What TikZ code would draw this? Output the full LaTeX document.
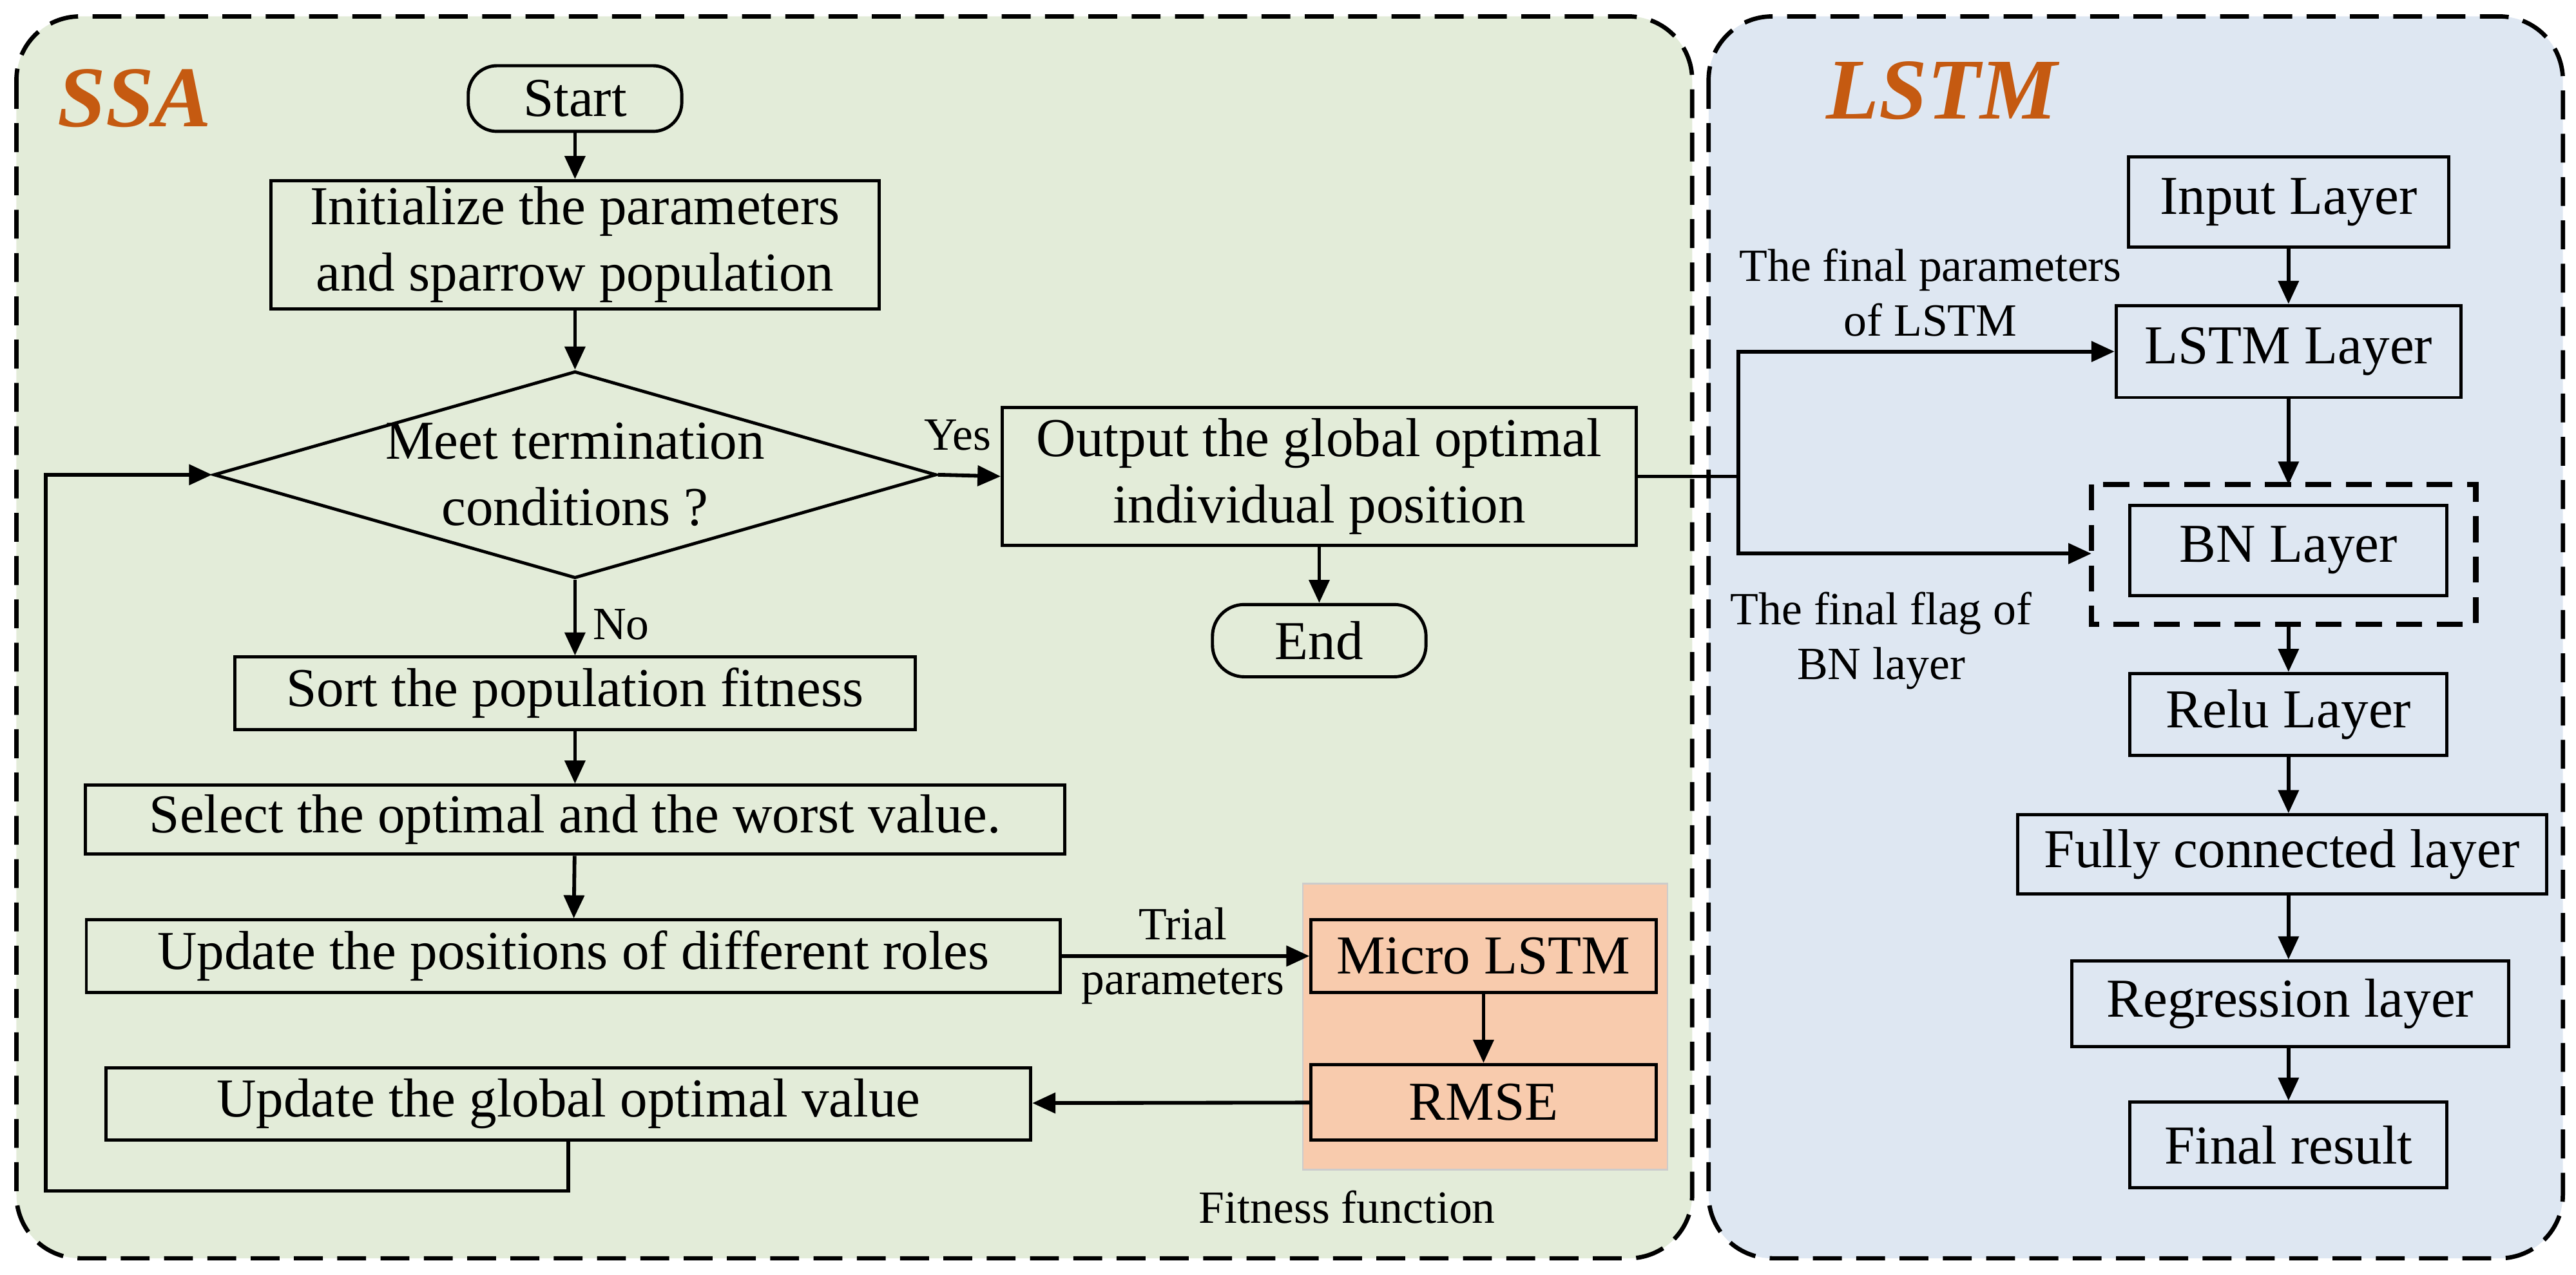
\documentclass[tikz,border=0pt]{standalone}
\usepackage{fontspec}
\setmainfont{Liberation Serif}
\usetikzlibrary{arrows.meta,shapes.geometric}
\begin{document}
\begin{tikzpicture}[x=0.02cm,y=-0.02cm,
  every node/.style={font=\fontsize{19}{23}\selectfont},
  small/.style={font=\fontsize{16}{19}\selectfont,align=center},
  box/.style={draw,line width=1.1pt,fill=none,align=center,inner sep=0pt},
  arr/.style={line width=1.3pt,-{Triangle[length=8pt,width=7pt]}},
  ln/.style={line width=1.3pt},
  panel/.style={line width=1.5pt,dash pattern=on 10pt off 5pt,rounded corners=22pt}]
\useasboundingbox (0,0) rectangle (1568,776);
\definecolor{gbg}{HTML}{E3ECD9}
\definecolor{bbg}{HTML}{DEE7F2}
\definecolor{org}{HTML}{F8CBAD}
\definecolor{lab}{HTML}{C55A11}
\draw[panel,fill=gbg] (10,10) rectangle (1030,766);
\draw[panel,fill=bbg] (1040,10) rectangle (1560,766);
\node[font=\fontsize{30}{34}\selectfont\bfseries\itshape,text=lab] (ssa) at (82,60) {SSA};
\node[font=\fontsize{30}{34}\selectfont\bfseries\itshape,text=lab] (lstmt) at (1182,55) {LSTM};
\fill[org] (793,538) rectangle (1015,712);
\draw[gray!40,line width=0.6pt] (793,538) rectangle (1015,712);
% left
\node[box,rounded corners=10pt,minimum width=2.6cm,minimum height=0.8cm] (start) at (350,60) {Start};
\node[box,minimum width=7.4cm,minimum height=1.56cm] (init) at (350,149) {Initialize the parameters\\and sparrow population};
\node[box,diamond,aspect=3.5,minimum width=8.8cm,minimum height=2.52cm] (dia) at (350,289) {};
\node[align=center] (diat) at (350,289) {Meet termination\\conditions ?};
\node[box,minimum width=7.72cm,minimum height=1.68cm] (out) at (803,290) {Output the global optimal\\individual position};
\node[box,rounded corners=11pt,minimum width=2.6cm,minimum height=0.88cm] (end) at (803,390) {End};
\node[box,minimum width=8.28cm,minimum height=0.88cm] (sort) at (350,422) {Sort the population fitness};
\node[box,minimum width=11.92cm,minimum height=0.84cm] (sel) at (350,499) {Select the optimal and the worst value.};
\node[box,minimum width=11.86cm,minimum height=0.88cm] (upd) at (349,582) {Update the positions of different roles};
\node[box,minimum width=11.26cm,minimum height=0.88cm] (ugl) at (346,672) {Update the global optimal value};
\node[box,minimum width=4.2cm,minimum height=0.88cm] (micro) at (903,582) {Micro LSTM};
\node[box,minimum width=4.2cm,minimum height=0.92cm] (rmse) at (903,671) {RMSE};
\node[small] (ff) at (820,735) {Fitness function};
\node[small] (yes) at (583,265) {Yes};
\node[small] (no) at (378,380) {No};
\node[small] (trial) at (720,582) {Trial\\parameters};
\draw[arr] (start) -- (init);
\draw[arr] (init) -- (dia);
\draw[arr] (dia.east) -- (out.west);
\draw[arr] (out) -- (end);
\draw[arr] (dia.south) -- (sort);
\draw[arr] (sort) -- (sel);
\draw[arr] (sel) -- (upd);
\draw[arr] (upd) -- (micro);
\draw[arr] (micro) -- (rmse);
\draw[arr] (rmse) -- (ugl);
\coordinate (lb) at (28,725);
\draw[arr] (ugl.south) -- (ugl.south |- lb) -- (lb) -- (28,289) -- (dia.west);
% right
\node[box,minimum width=3.9cm,minimum height=1.1cm] (inp) at (1393,123) {Input Layer};
\node[box,minimum width=4.2cm,minimum height=1.12cm] (lstm) at (1393,214) {LSTM Layer};
\draw[line width=1.8pt,dash pattern=on 9pt off 5pt] (1273,295) rectangle (1507,380);
\coordinate (bnl) at (1273,337);
\node[box,minimum width=3.86cm,minimum height=1.1cm] (bn) at (1393,335) {BN Layer};
\node[box,minimum width=3.86cm,minimum height=1.0cm] (relu) at (1393,435) {Relu Layer};
\node[box,minimum width=6.44cm,minimum height=0.96cm] (fc) at (1389,520) {Fully connected layer};
\node[box,minimum width=5.32cm,minimum height=1.04cm] (reg) at (1394,611) {Regression layer};
\node[box,minimum width=3.86cm,minimum height=1.04cm] (fin) at (1393,697) {Final result};
\draw[arr] (inp) -- (lstm);
\draw[arr] (lstm) -- (1393,295);
\draw[arr] (1393,380) -- (relu);
\draw[arr] (relu) -- (relu |- fc.north);
\draw[arr] (relu |- fc.south) -- (relu |- reg.north);
\draw[arr] (relu |- reg.south) -- (fin);
\coordinate (sp) at (1058,290);
\draw[ln] (out.east) -- (sp);
\draw[arr] (sp) -- (1058,214) -- (lstm.west);
\draw[arr] (sp) -- (1058,337) -- (bnl);
\node[small] (fp) at (1175,178) {The final parameters\\of LSTM};
\node[small] (fl) at (1145,390) {The final flag of\\BN layer};
\end{tikzpicture}
\end{document}
